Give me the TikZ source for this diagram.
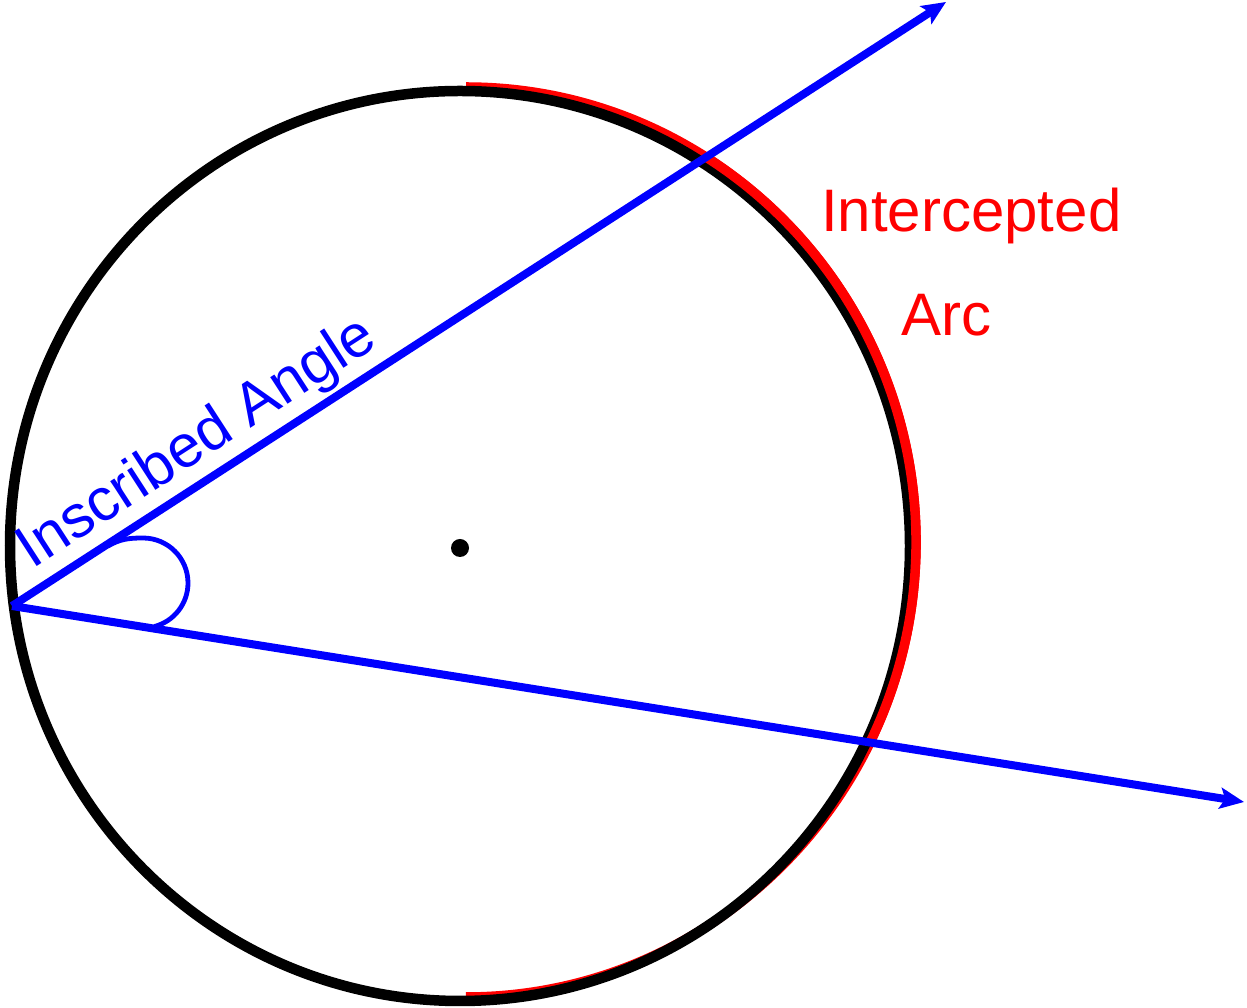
\documentclass[tikz,border=0pt]{standalone}
\usepackage{fontspec}
\setmainfont{Liberation Sans}
\usetikzlibrary{arrows.meta,calc}
\definecolor{myblue}{RGB}{0,0,255}
\definecolor{myred}{RGB}{255,0,0}
\tikzset{
  circ/.style={draw=black, line width=10.5pt},
  arcred/.style={draw=myred, line width=9.5pt},
  ray/.style={draw=myblue, line width=8pt, -{Stealth[length=24pt,width=21pt,inset=5pt]}},
  anglemark/.style={draw=myblue, line width=4.8pt},
  lbl/.style={inner sep=0pt, font=\fontsize{60}{72}\selectfont},
}
\begin{document}
\begin{tikzpicture}[x=1pt,y=1pt]
\useasboundingbox (0,0) rectangle (1247,1008);
\coordinate (bc) at (460,462);
\coordinate (rc) at (466,466);
\coordinate (V) at (12,402);
\coordinate (U) at (946,1006);
\coordinate (L) at (1244,206);
\coordinate (A) at (108,462);
\coordinate (T) at (143,470);
% red arc underneath
\path[arcred] ([shift={(90:450pt and 455pt)}]rc) arc[start angle=90, end angle=-90, x radius=450pt, y radius=455pt];
% black circle
\path[circ] (bc) ellipse[x radius=450pt, y radius=455pt];
% red arc over the circle between the rays
\path[arcred] ([shift={(58:450pt and 455pt)}]rc) arc[start angle=58, end angle=-26, x radius=450pt, y radius=455pt];
% rays
\draw[ray] (V) -- (U);
\draw[ray] (V) -- (L);
% angle mark
\draw[anglemark] (A) to[out=30,in=180] (T) arc[start angle=90, end angle=-75, radius=45pt];
% centre dot
\node[circle, fill=black, inner sep=0pt, minimum size=18pt] (dot) at (460,460) {};
% labels
\node[lbl, text=myblue, rotate=32.9, anchor=base west] (ins) at (32,438) {Inscribed Angle};
\node[lbl, text=myred, anchor=base west] (int) at (821,776) {Intercepted};
\node[lbl, text=myred, anchor=base west] (arc) at (901,672) {Arc};
\end{tikzpicture}
\end{document}
